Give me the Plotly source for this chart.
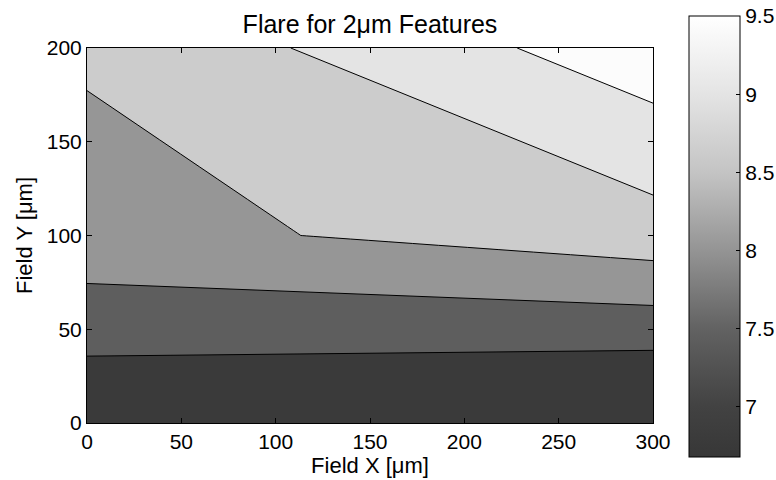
import plotly.graph_objects as go

# Sample positions across the field [um]
field_x = [0, 300]
field_y = [0, 100, 200]

# Measured flare [%] on the (y, x) sample grid
flare = [
    [6.54, 6.19],
    [7.83, 8.28],
    [8.05, 9.30],
]

# Contour levels and colour-bar scale
level_start = 7.0
level_end = 9.0
level_step = 0.5
cbar_min = 6.68
cbar_max = 9.5
cbar_ticks = [7, 7.5, 8, 8.5, 9, 9.5]
x_ticks = [0, 50, 100, 150, 200, 250, 300]
y_ticks = [0, 50, 100, 150, 200]

# Grey shade of each filled band, darkest (below 7) to lightest (above 9)
band_grays = [58, 94, 150, 204, 228, 252]
band_scale = [[i / (len(band_grays) - 1), f"rgb({g},{g},{g})"]
              for i, g in enumerate(band_grays)]

# Continuous grey ramp shown in the colour bar
ramp_values = [6.68, 7.0, 7.5, 8.0, 8.5, 9.0, 9.5]
ramp_grays = [55, 66, 98, 148, 196, 228, 255]
ramp_scale = [[(v - cbar_min) / (cbar_max - cbar_min), f"rgb({g},{g},{g})"]
              for v, g in zip(ramp_values, ramp_grays)]

L, R, T, B = 87, 123, 48, 57
W, H = 776, 480
plot_w = W - L - R
plot_h = H - T - B

fig = go.Figure()

# Heat map underneath only supplies the continuous colour bar
fig.add_trace(go.Heatmap(
    x=field_x, y=field_y, z=flare,
    zmin=cbar_min, zmax=cbar_max,
    colorscale=ramp_scale,
    hoverinfo="skip",
    showscale=True,
    colorbar=dict(
        x=(689 - L) / plot_w, xanchor="left", xpad=0,
        y=(H - B - 16) / plot_h, yanchor="top", ypad=0,
        len=441, lenmode="pixels",
        thickness=51, thicknessmode="pixels",
        outlinecolor="black", outlinewidth=1,
        tickmode="array", tickvals=cbar_ticks,
        ticks="inside", ticklen=4, tickcolor="black",
        tickfont=dict(size=21, color="black"),
    ),
))

# Filled contour map of flare
fig.add_trace(go.Contour(
    x=field_x, y=field_y, z=flare,
    autocontour=False,
    contours=dict(start=level_start, end=level_end, size=level_step,
                  coloring="fill", showlines=True),
    line=dict(color="black", width=1, smoothing=0),
    colorscale=band_scale,
    showscale=False,
    hoverinfo="skip",
))

axis_common = dict(
    showline=True, linecolor="black", linewidth=1, mirror="ticks",
    ticks="inside", ticklen=5, tickcolor="black",
    showgrid=False, zeroline=False,
    tickfont=dict(size=21, color="black"),
)

fig.update_layout(
    width=W, height=H,
    margin=dict(l=L, r=R, t=T, b=B, autoexpand=False),
    paper_bgcolor="white", plot_bgcolor="white",
    font=dict(family="Liberation Sans, Arial, sans-serif", color="black"),
    title=dict(text="Flare for 2\u03bcm Features", x=0.5, xref="paper",
               xanchor="center", y=1 - 24 / H, yanchor="middle",
               font=dict(size=25, color="black")),
    xaxis=dict(range=[0, 300], tickvals=x_ticks,
               title=dict(text="Field X [\u03bcm]", standoff=4,
                          font=dict(size=22, color="black")),
               **axis_common),
    yaxis=dict(range=[0, 200], tickvals=y_ticks,
               title=dict(text="Field Y [\u03bcm]", standoff=8,
                          font=dict(size=22, color="black")),
               **axis_common),
)

fig.write_html("out.html")
